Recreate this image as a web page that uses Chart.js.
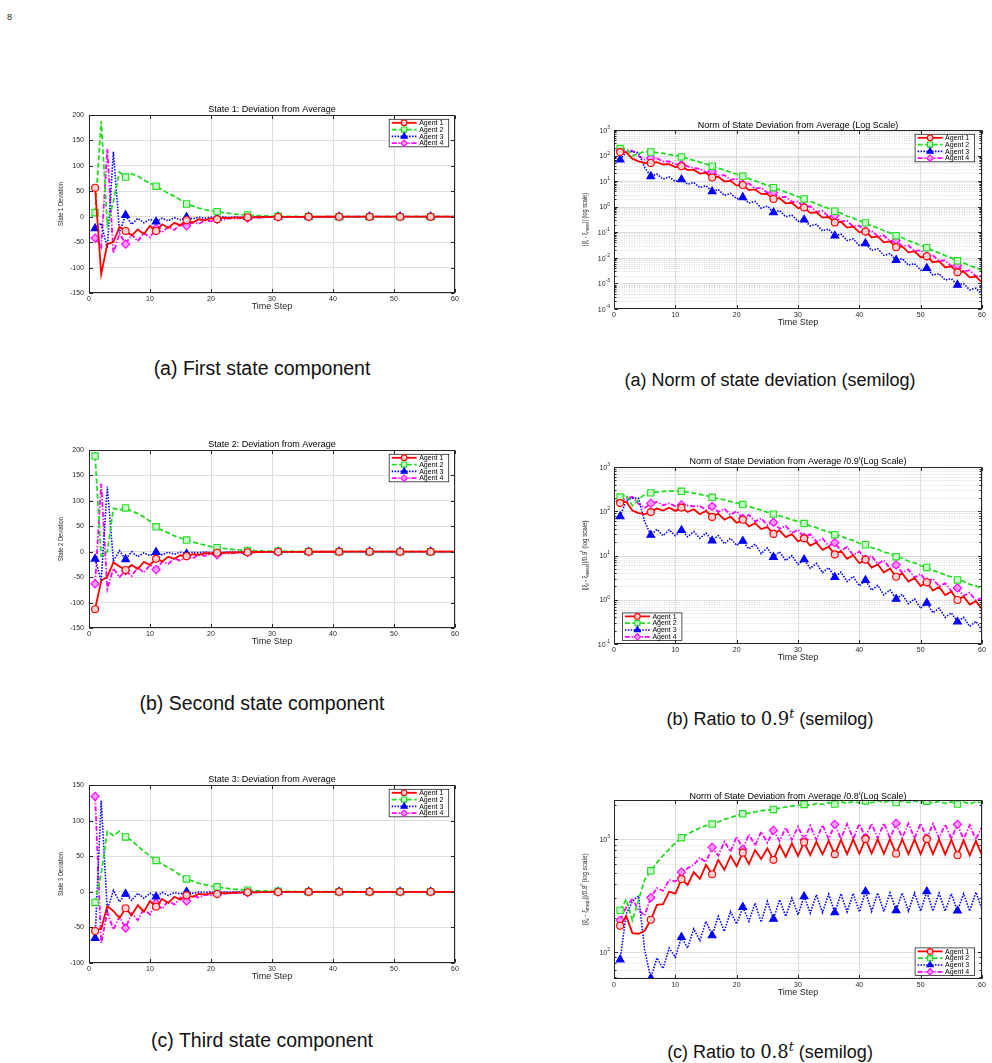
<!DOCTYPE html>
<html><head><meta charset="utf-8">
<script src="https://cdn.jsdelivr.net/npm/chart.js@4.4.1/dist/chart.umd.min.js"></script>
<style>
html,body{margin:0;padding:0;background:#fff;}
body{width:992px;height:1063px;position:relative;overflow:hidden;font-family:"Liberation Sans",Arial,Helvetica,sans-serif;}
canvas{position:absolute;}
.cap{position:absolute;width:440px;text-align:center;font-size:18px;line-height:20px;color:#111;white-space:nowrap;}
.capL{font-size:19.5px;}
.m{font-family:"DejaVu Serif","Liberation Serif",serif;}
.m sup{font-style:italic;font-size:0.7em;vertical-align:baseline;position:relative;top:-0.55em;line-height:0;}
.pg{position:absolute;left:7px;top:12px;font-size:9px;color:#222;}
</style></head><body>
<div class="pg">8</div>
<canvas id="c1"></canvas><canvas id="c2"></canvas><canvas id="c3"></canvas>
<canvas id="c4"></canvas><canvas id="c5"></canvas><canvas id="c6"></canvas>
<div class="cap capL" style="left:42px;top:358px">(a) First state component</div>
<div class="cap capL" style="left:42px;top:693px">(b) Second state component</div>
<div class="cap capL" style="left:42px;top:1030px">(c) Third state component</div>
<div class="cap" style="left:550px;top:370px">(a) Norm of state deviation (semilog)</div>
<div class="cap" style="left:550px;top:709px">(b) Ratio to <span class="m">0.9<sup>t</sup></span> (semilog)</div>
<div class="cap" style="left:550px;top:1042px">(c) Ratio to <span class="m">0.8<sup>t</sup></span> (semilog)</div>
<script>
// ---------------- DATA ----------------
const timeSteps = [1,2,3,4,5,6,7,8,9,10,11,12,13,14,15,16,17,18,19,20,21,22,23,24,25,26,27,28,29,30,
  31,32,33,34,35,36,37,38,39,40,41,42,43,44,45,46,47,48,49,50,51,52,53,54,55,56,57,58,59,60];
const agentNames = ['Agent 1','Agent 2','Agent 3','Agent 4'];
const xTicks = [0,10,20,30,40,50,60];

// State 1 deviation
const s1Agent1 = [57,-113,-54,-50,-20,-28,-37,-25,-34,-18, -28,-15,-22,-12,-17,-7,-12,-5,-7,-3,
  -5,-2,-3,-1.5,-2,-1,-1.3,-0.6,-0.8,-0.4, -0.5,-0.2,-0.3,-0.15,-0.2,-0.1,-0.1,-0.05,-0.06,-0.03,
  -0.04,-0.02,-0.02,-0.01,-0.01,-0.01,-0.01,0,0,0, 0,0,0,0,0,0,0,0,0,0];
const s1Agent2 = [8,188,-15,30,88,78,84,80,72,66, 60,53,46,40,33,25,21,17,14,12,
  10,8,6.5,5,4,3.5,2.5,2,1.5,1.2, 1,0.7,0.6,0.4,0.35,0.25,0.2,0.15,0.12,0.1,
  0.07,0.06,0.05,0.04,0.03,0.02,0.02,0.01,0.01,0.01, 0.01,0,0,0,0,0,0,0,0,0];
const s1Agent3 = [-23,-13,-62,128,-30,3,-15,-3,-12,-5, -10,-3,-8,-2,-6,-1,-4,-1,-3,-1,
  -2,-0.5,-1.5,-0.5,-1,-0.3,-0.6,-0.2,-0.4,-0.2, -0.3,-0.1,-0.2,-0.1,-0.1,-0.05,-0.08,-0.03,-0.05,-0.02,
  -0.03,-0.01,-0.02,-0.01,-0.01,0,0,0,0,0, 0,0,0,0,0,0,0,0,0,0];
const s1Agent4 = [-42,-60,133,-72,-33,-54,-35,-48,-32,-41, -23,-31,-20,-26,-15,-18,-11,-14,-7,-9,
  -5,-6,-3,-4,-2,-3,-1.5,-2,-1,-1, -0.6,-0.6,-0.4,-0.4,-0.25,-0.25,-0.15,-0.15,-0.1,-0.1,
  -0.06,-0.06,-0.04,-0.04,-0.02,-0.02,-0.01,-0.01,-0.01,-0.01, 0,0,0,0,0,0,0,0,0,0];

// State 2 deviation
const s2Agent1 = [-113,-57,-49,-21,-29,-36,-26,-34,-20,-26, -14,-19,-10,-14,-7,-9,-5,-6,-3,-3.5,
  -2,-2.5,-1.2,-1.5,-0.8,-1,-0.5,-0.6,-0.3,-0.4, -0.2,-0.25,-0.12,-0.15,-0.08,-0.1,-0.05,-0.06,-0.03,-0.04,
  -0.02,-0.02,-0.01,-0.01,-0.01,-0.01,0,0,0,0, 0,0,0,0,0,0,0,0,0,0];
const s2Agent2 = [188,-8,0,85,82,86,80,75,68,60, 49,42,37,31,27,23,19,16,13,10,
  8,6.5,5,4,3.2,2.6,2,1.6,1.2,1, 0.8,0.6,0.5,0.4,0.3,0.25,0.2,0.15,0.12,0.1,
  0.07,0.06,0.05,0.04,0.03,0.02,0.02,0.01,0.01,0.01, 0.01,0,0,0,0,0,0,0,0,0];
const s2Agent3 = [-14,-57,128,-18,2,-15,0,-10,-2,-8, -1,-6,-1,-5,-1,-4,-1,-2,-0.5,-1.5,
  -1,-1,-0.5,-0.6,-0.3,-0.4,-0.2,-0.3,-0.1,-0.2, -0.1,-0.1,-0.05,-0.06,-0.03,-0.04,-0.02,-0.02,-0.01,-0.01,
  0,0,0,0,0,0,0,0,0,0, 0,0,0,0,0,0,0,0,0,0];
const s2Agent4 = [-63,134,-73,-33,-50,-37,-48,-31,-41,-26, -35,-20,-24,-13,-18,-8,-13,-6,-8,-4,
  -6,-3,-4,-2,-2.5,-1.2,-1.5,-0.8,-1,-0.5, -0.6,-0.3,-0.35,-0.2,-0.2,-0.1,-0.12,-0.06,-0.07,-0.04,
  -0.04,-0.02,-0.02,-0.01,-0.01,-0.01,0,0,0,0, 0,0,0,0,0,0,0,0,0,0];

// State 3 deviation
const s3Agent1 = [-55,-52,-20,-27,-37,-23,-33,-19,-28,-13, -21,-10,-16,-7,-11,-5,-7,-3,-4,-2,
  -3,-1.5,-2,-1,-1.2,-0.6,-0.8,-0.4,-0.5,-0.2, -0.3,-0.15,-0.2,-0.1,-0.12,-0.06,-0.07,-0.04,-0.04,-0.02,
  -0.02,-0.01,-0.01,-0.01,0,0,0,0,0,0, 0,0,0,0,0,0,0,0,0,0];
const s3Agent2 = [-15,25,85,79,85,77,72,64,57,50, 44,39,34,29,23,18,15,12,10,8,
  7,5.5,4.5,3.5,3,2.3,1.8,1.4,1.1,0.9, 0.7,0.55,0.45,0.35,0.28,0.22,0.17,0.13,0.1,0.08,
  0.06,0.05,0.04,0.03,0.02,0.02,0.01,0.01,0.01,0.01, 0,0,0,0,0,0,0,0,0,0];
const s3Agent3 = [-65,128,-26,2,-14,-3,-12,-2,-9,-2, -7,-1,-5,-1,-3,0,-2,-0.5,-1,-0.3,
  -0.8,-0.2,-0.5,-0.1,-0.3,-0.1,-0.2,-0.05,-0.1,-0.03, -0.06,-0.02,-0.04,-0.01,-0.02,-0.01,-0.01,0,0,0,
  0,0,0,0,0,0,0,0,0,0, 0,0,0,0,0,0,0,0,0,0];
const s3Agent4 = [134,-72,-28,-53,-35,-51,-30,-40,-24,-32, -16,-24,-12,-18,-8,-13,-6,-8,-4,-5,
  -3,-3,-2,-2,-1,-1.2,-0.7,-0.8,-0.4,-0.5, -0.3,-0.3,-0.2,-0.2,-0.1,-0.1,-0.06,-0.06,-0.04,-0.04,
  -0.02,-0.02,-0.01,-0.01,-0.01,0,0,0,0,0, 0,0,0,0,0,0,0,0,0,0];

// Norm of state deviation (semilog)
const normAgent1 = [137,134,75.7,59.8,50.7,50.9,55.2,44.7,46.3,35.6, 38.1,27.2,28.1,19.7,20.9,13.8,14.8,9.68,10.3,6.67,
  7.03,4.47,4.75,3.16,3.14,1.99,2.15,1.36,1.43,0.883, 0.933,0.574,0.605,0.373,0.394,0.239,0.257,0.153,0.166,0.099,
  0.107,0.0638,0.0681,0.0406,0.0438,0.0259,0.0279,0.0165,0.0178,0.0106, 0.0115,0.00676,0.00731,0.0043,0.00463,0.00271,0.00293,0.00172,0.00186,0.0011];
const normAgent2 = [188,189,97.5,120,143,138,130,121,110,99.8, 88.9,76.2,65.5,55.3,46.5,38.4,32.2,27.0,22.5,18.7,
  15.5,12.6,10.3,8.45,6.87,5.56,4.56,3.74,3.05,2.48, 2.02,1.59,1.32,1.04,0.859,0.665,0.557,0.432,0.360,0.279,
  0.233,0.179,0.150,0.115,0.0957,0.0738,0.0612,0.0472,0.0390,0.0302, 0.0249,0.0192,0.0158,0.0122,0.0100,0.00767,0.00640,0.00493,0.00411,0.00324];
const normAgent3 = [68.9,140,144,129,34.3,15.4,18.7,12.0,14.7,9.70, 11.6,7.50,8.83,5.57,6.61,3.97,4.69,2.76,3.32,2.05,
  2.32,1.39,1.61,0.875,1.06,0.594,0.705,0.402,0.468,0.266, 0.309,0.176,0.205,0.114,0.133,0.0730,0.0855,0.0473,0.0551,0.0303,
  0.0367,0.0196,0.0228,0.0125,0.0146,0.00818,0.00933,0.00516,0.00597,0.00330, 0.00394,0.00212,0.00243,0.00136,0.00154,0.000871,0.000986,0.000555,0.000650,0.000369];
const normAgent4 = [153,161,153,97.1,69.3,80.2,77.6,58.7,58.7,45.4, 44.0,38.1,32.7,30.3,22.0,23.9,16.2,17.2,11.2,12.2,
  7.53,8.17,5.19,5.52,3.52,3.62,2.33,2.45,1.53,1.60, 0.982,1.04,0.628,0.678,0.408,0.440,0.262,0.284,0.167,0.182,
  0.110,0.117,0.0695,0.0757,0.0445,0.0482,0.0287,0.0308,0.0182,0.0197, 0.0117,0.0125,0.00746,0.00796,0.00472,0.00507,0.00299,0.00321,0.00191,0.00198];

// Norm / 0.9^t
const ratio09Agent1 = [153,165,104,91.2,85.9,95.7,115,104,120,102, 121,96.2,111,85.9,102,74.6,88.7,64.4,76.0,54.8,
  64.3,45.4,53.7,39.6,43.8,30.8,37.1,26.0,30.3,20.8, 24.4,16.7,19.6,13.4,15.8,10.6,12.7,8.41,10.1,6.70,
  8.07,5.33,6.31,4.18,5.01,3.30,3.94,2.59,3.12,2.05, 2.48,1.62,1.95,1.27,1.52,0.989,1.19,0.776,0.931,0.614];
const ratio09Agent2 = [209,233,134,182,242,260,272,281,284,286, 283,270,258,242,226,207,193,180,166,154,
  142,128,117,106,95.7,86.1,78.5,71.4,64.7,58.3, 52.8,46.3,42.7,37.2,34.4,29.6,27.5,23.7,21.9,18.9,
  17.5,15.0,13.9,11.9,11.0,9.40,8.67,7.43,6.82,5.86, 5.36,4.59,4.22,3.60,3.30,2.80,2.59,2.22,2.06,1.80];
const ratio09Agent3 = [76.5,173,198,197,58.1,29.0,39.1,28.0,37.8,27.9, 37.1,26.5,34.8,24.4,32.1,21.5,28.1,18.4,24.5,16.9,
  21.2,14.1,18.2,11.0,14.8,9.20,12.1,7.69,9.93,6.27, 8.09,5.12,6.62,4.10,5.31,3.24,4.22,2.59,3.36,2.05,
  2.76,1.64,2.11,1.29,1.67,1.04,1.32,0.813,1.04,0.641, 0.849,0.507,0.647,0.401,0.507,0.318,0.400,0.250,0.326,0.206];
const ratio09Agent4 = [171,199,210,148,117,151,162,136,152,130, 140,135,129,132,107,129,96.8,114,83.0,100,
  68.9,83.0,58.6,69.2,49.1,56.1,40.2,46.9,32.4,37.8, 25.7,30.4,20.3,24.4,16.3,19.5,12.9,15.6,10.2,12.3,
  8.28,9.82,6.44,7.80,5.09,6.14,4.06,4.84,3.18,3.82, 2.51,3.00,1.99,2.36,1.55,1.85,1.21,1.45,0.959,1.10];

// Norm / 0.8^t
const ratio08Agent1 = [172,209,148,146,155,194,263,267,345,331, 444,395,512,447,594,491,658,537,713,578,
  762,605,805,670,832,658,891,703,923,713, 942,724,955,736,973,736,991,740,1000,745,
  1009,750,1000,745,1005,745,1000,740,1000,740, 1009,740,1000,735,991,724,979,720,971,720];
const ratio08Agent2 = [235,295,191,292,437,527,619,719,820,929, 1035,1109,1191,1259,1321,1365,1429,1500,1560,1622,
  1683,1710,1750,1791,1820,1841,1888,1932,1968,2000, 2037,2009,2080,2042,2118,2051,2148,2080,2168,2099,
  2188,2109,2198,2118,2198,2118,2198,2118,2188,2118, 2178,2099,2168,2080,2148,2051,2138,2061,2148,2113];
const ratio08Agent3 = [86.1,219,282,316,105,58.9,89.1,71.8,109,90.4, 136,109,161,127,188,141,208,153,230,178,
  251,188,272,185,282,197,292,208,302,215, 312,222,323,225,327,225,330,228,332,228,
  345,230,335,230,335,235,335,232,335,232, 345,232,333,232,330,233,330,232,340,241];
const ratio08Agent4 = [192,251,299,237,212,305,370,350,438,423, 512,555,594,689,627,849,718,953,778,1057,
  817,1107,879,1169,933,1199,966,1268,986,1294, 991,1318,991,1337,1007,1355,1009,1371,1009,1371,
  1035,1380,1021,1390,1021,1384,1030,1380,1021,1380, 1021,1371,1021,1361,1009,1355,1000,1340,1000,1294];

// ---------------- STYLE ----------------
const FONT = '"Liberation Sans", Arial, Helvetica, sans-serif';
const TEXT = '#262626';
const AXIS = '#262626';
const GRID = '#dedede';
const GRID_MINOR = '#c8c8c8';
const AGENT_STYLES = [
  {color:'#ff0000', dash:[], width:1.8, pointStyle:'circle', r:3.5, fill:'#ffd0d0'},
  {color:'#22dd22', dash:[5,2.5], width:1.8, pointStyle:'rect', r:4.5, fill:'#c8f8c8'},
  {color:'#0000ff', dash:[1.5,1.4], width:1.6, pointStyle:'triangle', r:4.5, fill:'#0000ff'},
  {color:'#ff00ff', dash:[5,1.8,1.3,1.8], width:1.8, pointStyle:'rectRot', r:4.1, fill:'#ff99ff'}
];

function richMeasure(ctx, segs, size) {
  let w = 0;
  segs.forEach(s => {
    const fs = (s.sup || s.sub) ? size * 0.68 : size;
    ctx.font = (s.it ? 'italic ' : '') + fs + 'px ' + FONT;
    w += ctx.measureText(s.t).width;
  });
  return w;
}
function drawRich(ctx, segs, x, y, size, align) {
  const w = richMeasure(ctx, segs, size);
  let cx = align === 'center' ? x - w / 2 : (align === 'right' ? x - w : x);
  ctx.textAlign = 'left'; ctx.textBaseline = 'middle';
  segs.forEach(s => {
    const fs = (s.sup || s.sub) ? size * 0.68 : size;
    ctx.font = (s.it ? 'italic ' : '') + fs + 'px ' + FONT;
    const dy = s.sup ? -size * 0.38 : (s.sub ? size * 0.3 : 0);
    ctx.fillText(s.t, cx, y + dy);
    cx += ctx.measureText(s.t).width;
  });
}
function drawMarker(ctx, st, x, y, scale) {
  ctx.save();
  ctx.setLineDash([]);
  ctx.fillStyle = st.fill; ctx.strokeStyle = st.color; ctx.lineWidth = 1.1;
  if (Chart.helpers && Chart.helpers.drawPoint) {
    Chart.helpers.drawPoint(ctx, {pointStyle: st.pointStyle, radius: st.r * scale, borderWidth: 1.1, rotation: 0}, x, y);
  } else {
    ctx.beginPath(); ctx.arc(x, y, st.r * scale, 0, Math.PI * 2); ctx.fill(); ctx.stroke();
  }
  ctx.restore();
}

function makeDecor(spec) {
  return {
    id: 'decor',
    beforeDatasetsDraw(chart) {
      if (!spec.log) return;
      const ctx = chart.ctx, ys = chart.scales.y, a = chart.chartArea;
      ctx.save();
      ctx.beginPath(); ctx.rect(a.left, a.top, a.right - a.left, a.bottom - a.top); ctx.clip();
      const lo = Math.floor(Math.log10(ys.min)), hi = Math.ceil(Math.log10(ys.max));
      for (let e = lo; e <= hi; e++) {
        for (let m = 1; m <= 9; m++) {
          const v = m * Math.pow(10, e);
          if (v < ys.min * 0.999 || v > ys.max * 1.001) continue;
          const py = Math.round(ys.getPixelForValue(v)) + 0.5;
          ctx.beginPath();
          if (m === 1) { ctx.setLineDash([]); ctx.strokeStyle = GRID; ctx.lineWidth = 1; }
          else { ctx.setLineDash([1, 1.5]); ctx.strokeStyle = GRID_MINOR; ctx.lineWidth = 0.7; }
          ctx.moveTo(a.left, py); ctx.lineTo(a.right, py); ctx.stroke();
        }
      }
      ctx.restore();
    },
    afterDraw(chart) {
      const ctx = chart.ctx, a = chart.chartArea, xs = chart.scales.x, ys = chart.scales.y;
      ctx.save();
      ctx.setLineDash([]);
      // box
      ctx.strokeStyle = AXIS; ctx.lineWidth = 1;
      const L = Math.round(a.left) + 0.5, T = Math.round(a.top) + 0.5, R = Math.round(a.right) - 0.5, B = Math.round(a.bottom) - 0.5;
      ctx.strokeRect(L, T, R - L, B - T);
      // inward ticks
      ctx.beginPath();
      xs.ticks.forEach(t => {
        const px = Math.round(xs.getPixelForValue(t.value)) + 0.5;
        ctx.moveTo(px, B); ctx.lineTo(px, B - 3.5);
        ctx.moveTo(px, T); ctx.lineTo(px, T + 3.5);
      });
      if (spec.log) {
        const lo = Math.floor(Math.log10(ys.min)), hi = Math.ceil(Math.log10(ys.max));
        for (let e = lo; e <= hi; e++) for (let m = 1; m <= 9; m++) {
          const v = m * Math.pow(10, e);
          if (v < ys.min * 0.999 || v > ys.max * 1.001) continue;
          const py = Math.round(ys.getPixelForValue(v)) + 0.5;
          const len = m === 1 ? 3.5 : 2;
          ctx.moveTo(L, py); ctx.lineTo(L + len, py);
          ctx.moveTo(R, py); ctx.lineTo(R - len, py);
        }
      } else {
        ys.ticks.forEach(t => {
          const py = Math.round(ys.getPixelForValue(t.value)) + 0.5;
          ctx.moveTo(L, py); ctx.lineTo(L + 3.5, py);
          ctx.moveTo(R, py); ctx.lineTo(R - 3.5, py);
        });
      }
      ctx.stroke();
      // log tick labels
      ctx.fillStyle = TEXT;
      if (spec.log) {
        const lo = Math.ceil(Math.log10(ys.min) - 1e-9), hi = Math.floor(Math.log10(ys.max) + 1e-9);
        for (let e = lo; e <= hi; e++) {
          const py = ys.getPixelForValue(Math.pow(10, e));
          ctx.font = '7px ' + FONT; const wb = ctx.measureText('10').width;
          ctx.font = '5px ' + FONT; const ex = String(e); const we = ctx.measureText(ex).width;
          const x0 = a.left - 4 - wb - we;
          ctx.textAlign = 'left'; ctx.textBaseline = 'middle';
          ctx.font = '7px ' + FONT; ctx.fillText('10', x0, py + 0.8);
          ctx.font = '5px ' + FONT; ctx.fillText(ex, x0 + wb, py - 2.4);
        }
      }
      // x title
      ctx.fillStyle = TEXT; ctx.font = '9px ' + FONT; ctx.textAlign = 'center'; ctx.textBaseline = 'middle';
      ctx.fillText('Time Step', (a.left + a.right) / 2, a.bottom + 14);
      // title
      ctx.fillStyle = '#000';
      drawRich(ctx, spec.title, (a.left + a.right) / 2, a.top - spec.titleGap, 9, 'center');
      // y label (condensed)
      ctx.save();
      ctx.translate(spec.yLabelX, (a.top + a.bottom) / 2);
      ctx.rotate(-Math.PI / 2);
      const w = richMeasure(ctx, spec.yLabel, 8);
      ctx.scale(spec.yLabelLen / w, 1);
      ctx.fillStyle = TEXT;
      drawRich(ctx, spec.yLabel, 0, 0, 8, 'center');
      ctx.restore();
      // legend
      const lw = 59.5, lh = 27.5;
      let bx, by;
      if (spec.legend === 'tr') { bx = a.right - spec.legDx - lw; by = a.top + spec.legDy; }
      else if (spec.legend === 'bl') { bx = a.left + spec.legDx; by = a.bottom - spec.legDy - lh; }
      else { bx = a.right - spec.legDx - lw; by = a.bottom - spec.legDy - lh; }
      ctx.fillStyle = '#fff'; ctx.fillRect(bx, by, lw, lh);
      ctx.strokeStyle = AXIS; ctx.lineWidth = 0.8; ctx.strokeRect(bx, by, lw, lh);
      AGENT_STYLES.forEach((st, k) => {
        const cy = by + 3.5 + k * 6.8;
        ctx.beginPath(); ctx.setLineDash(st.dash); ctx.strokeStyle = st.color; ctx.lineWidth = st.width;
        ctx.moveTo(bx + 2.5, cy); ctx.lineTo(bx + 27.5, cy); ctx.stroke(); ctx.setLineDash([]);
        drawMarker(ctx, st, bx + 15, cy, 0.8);
        ctx.fillStyle = '#000'; ctx.font = '7px ' + FONT; ctx.textAlign = 'left'; ctx.textBaseline = 'middle';
        ctx.fillText(agentNames[k], bx + 30, cy + 0.3);
      });
      ctx.restore();
    }
  };
}

function buildChart(id, spec) {
  const cv = document.getElementById(id);
  const W = spec.padL + spec.plotW + spec.padR, H = spec.padT + spec.plotH + spec.padB;
  cv.width = W; cv.height = H;
  cv.style.left = spec.left + 'px'; cv.style.top = spec.top + 'px';
  cv.style.width = W + 'px'; cv.style.height = H + 'px';
  const datasets = spec.series.map((vals, k) => {
    const st = AGENT_STYLES[k];
    return {
      label: agentNames[k],
      data: vals.map((v, i) => ({x: timeSteps[i], y: v})),
      borderColor: st.color, borderWidth: st.width, borderDash: st.dash,
      backgroundColor: st.fill, fill: false, tension: 0,
      pointStyle: st.pointStyle,
      pointRadius: (c) => (c.dataIndex % 5 === 0 ? st.r : 0),
      pointBorderColor: st.color, pointBackgroundColor: st.fill, pointBorderWidth: 1.1,
      clip: 0
    };
  });
  const yScale = spec.log ? {
    type: 'logarithmic', min: spec.ymin, max: spec.ymax,
    afterFit: s => { s.width = spec.padL; },
    ticks: {display: false}, grid: {display: false}, border: {display: false}
  } : {
    type: 'linear', min: spec.ymin, max: spec.ymax,
    afterFit: s => { s.width = spec.padL; },
    ticks: {stepSize: spec.ystep, font: {family: FONT, size: 7}, color: TEXT, padding: 5},
    grid: {color: GRID, drawTicks: false, lineWidth: 1}, border: {display: false}
  };
  return new Chart(cv, {
    type: 'line',
    data: {datasets},
    options: {
      responsive: false, animation: false, devicePixelRatio: 1, events: [],
      layout: {padding: {left: 0, top: spec.padT, right: spec.padR, bottom: 0}},
      plugins: {legend: {display: false}, title: {display: false}, tooltip: {enabled: false}},
      scales: {
        x: {
          type: 'linear', min: xTicks[0], max: xTicks[xTicks.length - 1],
          afterFit: s => { s.height = spec.padB; },
          afterBuildTicks: s => { s.ticks = xTicks.map(v => ({value: v})); },
          ticks: {font: {family: FONT, size: 7}, color: TEXT, padding: 2, maxRotation: 0, autoSkip: false},
          grid: {color: GRID, drawTicks: false, lineWidth: 1}, border: {display: false}
        },
        y: yScale
      }
    },
    plugins: [makeDecor(spec)]
  });
}

const LEFT = {left: 49, padL: 40, plotW: 366, padR: 9, padT: 20, plotH: 178, padB: 25, yLabelX: 12, yLabelLen: 44, legend: 'tr', legDx: 6.3, legDy: 4.3, titleGap: 5};
const RIGHT = {left: 569, padL: 45, plotW: 368, padR: 8, padT: 20, padB: 25, yLabelX: 16, log: true, titleGap: 4.5};

buildChart('c1', Object.assign({}, LEFT, {top: 95, ymin: -150, ymax: 200, ystep: 50,
  series: [s1Agent1, s1Agent2, s1Agent3, s1Agent4],
  title: [{t: 'State 1: Deviation from Average'}], yLabel: [{t: 'State 1 Deviation'}]}));
buildChart('c2', Object.assign({}, LEFT, {top: 430, ymin: -150, ymax: 200, ystep: 50,
  series: [s2Agent1, s2Agent2, s2Agent3, s2Agent4],
  title: [{t: 'State 2: Deviation from Average'}], yLabel: [{t: 'State 2 Deviation'}]}));
buildChart('c3', Object.assign({}, LEFT, {top: 765, ymin: -100, ymax: 150, ystep: 50,
  series: [s3Agent1, s3Agent2, s3Agent3, s3Agent4],
  title: [{t: 'State 3: Deviation from Average'}], yLabel: [{t: 'State 3 Deviation'}]}));

buildChart('c4', Object.assign({}, RIGHT, {top: 110, plotH: 179, ymin: 1e-4, ymax: 1e3,
  series: [normAgent1, normAgent2, normAgent3, normAgent4],
  title: [{t: 'Norm of State Deviation from Average (Log Scale)'}],
  yLabel: [{t: '||\u03be'}, {t: 'i', sub: true}, {t: ' - \u03be'}, {t: 'mean', sub: true}, {t: '|| (log scale)'}],
  yLabelLen: 53, legend: 'tr', legDx: 7.4, legDy: 4.3}));
buildChart('c5', Object.assign({}, RIGHT, {top: 447, plotH: 177, ymin: 0.1, ymax: 1e3,
  series: [ratio09Agent1, ratio09Agent2, ratio09Agent3, ratio09Agent4],
  title: [{t: 'Norm of State Deviation from Average /0.9'}, {t: 't', sup: true}, {t: '(Log Scale)'}],
  yLabel: [{t: '||\u03be'}, {t: 'i', sub: true}, {t: ' - \u03be'}, {t: 'mean', sub: true}, {t: '||/0.9'}, {t: 't', sup: true}, {t: ' (log scale)'}],
  yLabelLen: 70, legend: 'bl', legDx: 8.4, legDy: 3.6, titleGap: 5.5}));
buildChart('c6', Object.assign({}, RIGHT, {top: 780, plotH: 179, ymin: 58, ymax: 2230,
  series: [ratio08Agent1, ratio08Agent2, ratio08Agent3, ratio08Agent4],
  title: [{t: 'Norm of State Deviation from Average /0.8'}, {t: 't', sup: true}, {t: '(Log Scale)'}],
  yLabel: [{t: '||\u03be'}, {t: 'i', sub: true}, {t: ' - \u03be'}, {t: 'mean', sub: true}, {t: '||/0.8'}, {t: 't', sup: true}, {t: ' (log scale)'}],
  yLabelLen: 72, legend: 'br', legDx: 7.4, legDy: 3.6, titleGap: 3.5}));
</script>
</body></html>
